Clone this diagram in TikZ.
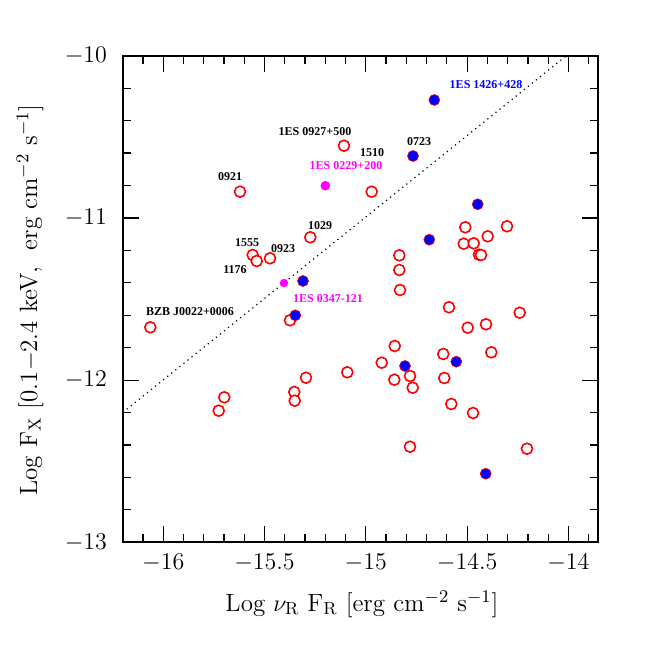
\documentclass[tikz,border=0pt]{standalone}
\usepackage{fontspec}
\newfontfamily\labfont{Liberation Serif}
\definecolor{mag}{RGB}{255,0,255}
\begin{document}
\begin{tikzpicture}[x=0.5pt,y=-0.5pt,
  op/.style={draw=red,line width=0.8pt,fill=white},
  bl/.style={draw=red,line width=0.3pt,fill=blue},
  mg/.style={fill=mag},
  lab/.style={font=\fontsize{6}{7}\selectfont\labfont\bfseries,inner sep=0pt},
  tl/.style={font=\fontsize{12}{14}\selectfont}]
\useasboundingbox (0,0) rectangle (664,664);
% ticks
\foreach \i in {1,...,23} \draw[line width=0.6pt] (122.7+20.26*\i,542.3) -- ++(0,-8) (122.7+20.26*\i,55.7) -- ++(0,8);
\foreach \p in {163.2,264.5,365.8,467.1,568.4} \draw[line width=0.6pt] (\p,542.3) -- ++(0,-16) (\p,55.7) -- ++(0,16);
\foreach \i in {1,...,14} \draw[line width=0.6pt] (122.7,542.3-32.44*\i) -- ++(8,0) (598,542.3-32.44*\i) -- ++(-8,0);
\foreach \p in {380.1,217.9} \draw[line width=0.6pt] (122.7,\p) -- ++(16,0) (598,\p) -- ++(-16,0);
\draw[line width=1pt] (122.7,55.7) rectangle (598,542.3);
% tick labels
\foreach \p/\t in {163.2/-16,264.5/-15.5,365.8/-15,467.1/-14.5,568.4/-14} \node[tl] at (\p,563) {$\t$};
\foreach \p/\t in {55.7/-10,217.9/-11,380.1/-12,542.3/-13} \node[tl,anchor=east] at (114,\p) {$\t$};
% axis titles
\node[font=\fontsize{12.5}{14}\selectfont] at (362,604) {Log $\nu_{\mathrm R}$ F$_{\mathrm R}$ [erg cm$^{-2}$ s$^{-1}$]};
\node[font=\fontsize{12.5}{14}\selectfont,rotate=90] at (30,300) {Log F$_{\mathrm X}$ [0.1$-$2.4 keV,\ \ erg cm$^{-2}$ s$^{-1}$]};
% line
\draw[dotted,line width=0.6pt] (122.7,412.5) -- (566.4,55.7);
% open circles
\foreach \x/\y in {344/145.7,240/191.7,310.3/237.3,252.7/255,256.7/261,270/258.3,290/320.3,150.3/327.3,
 399.3/255.3,399.3/270,400/290,394.7/346,381.7/362.7,410/376,394.3/379.7,412.7/387.7,347.3/372.3,306/377.7,
 294.3/392,294.7/400.7,224.3/397.3,218.7/410.7,371.7/191.7,465.3/227.3,507/226.3,487.7/236.3,463.7/243.7,
 473.7/243.3,479/254.7,481/255,449/307.3,519.7/312.7,486/324.3,467.7/327.7,491.3/352.3,443.3/354,
 444.3/378,451.3/404,473/413,410/446.7,527/448.7}
 \draw[op] (\x,\y) circle (5.5);
% blue
\foreach \x/\y in {303/281,295.3/315.3,429.3/239.7,405/366,477.7/204.3,456.3/361.7,485.7/473.7,413/156,434.3/100}
 \draw[bl] (\x,\y) circle (5.5);
\fill[mg] (325.3,185.7) circle (4.8);
\fill[mg] (284,283) circle (4.2);
% labels
\node[lab] at (315,132) {1ES 0927+500};
\node[lab,text=mag] at (346,166) {1ES 0229+200};
\node[lab] at (230,177) {0921};
\node[lab] at (320,226) {1029};
\node[lab] at (247,243) {1555};
\node[lab] at (283,249) {0923};
\node[lab] at (235,270) {1176};
\node[lab] at (190,312) {BZB J0022+0006};
\node[lab,text=mag] at (328,299) {1ES 0347-121};
\node[lab] at (372,153) {1510};
\node[lab] at (419,142) {0723};
\node[lab,text=blue] at (486,85) {1ES 1426+428};
\end{tikzpicture}
\end{document}
